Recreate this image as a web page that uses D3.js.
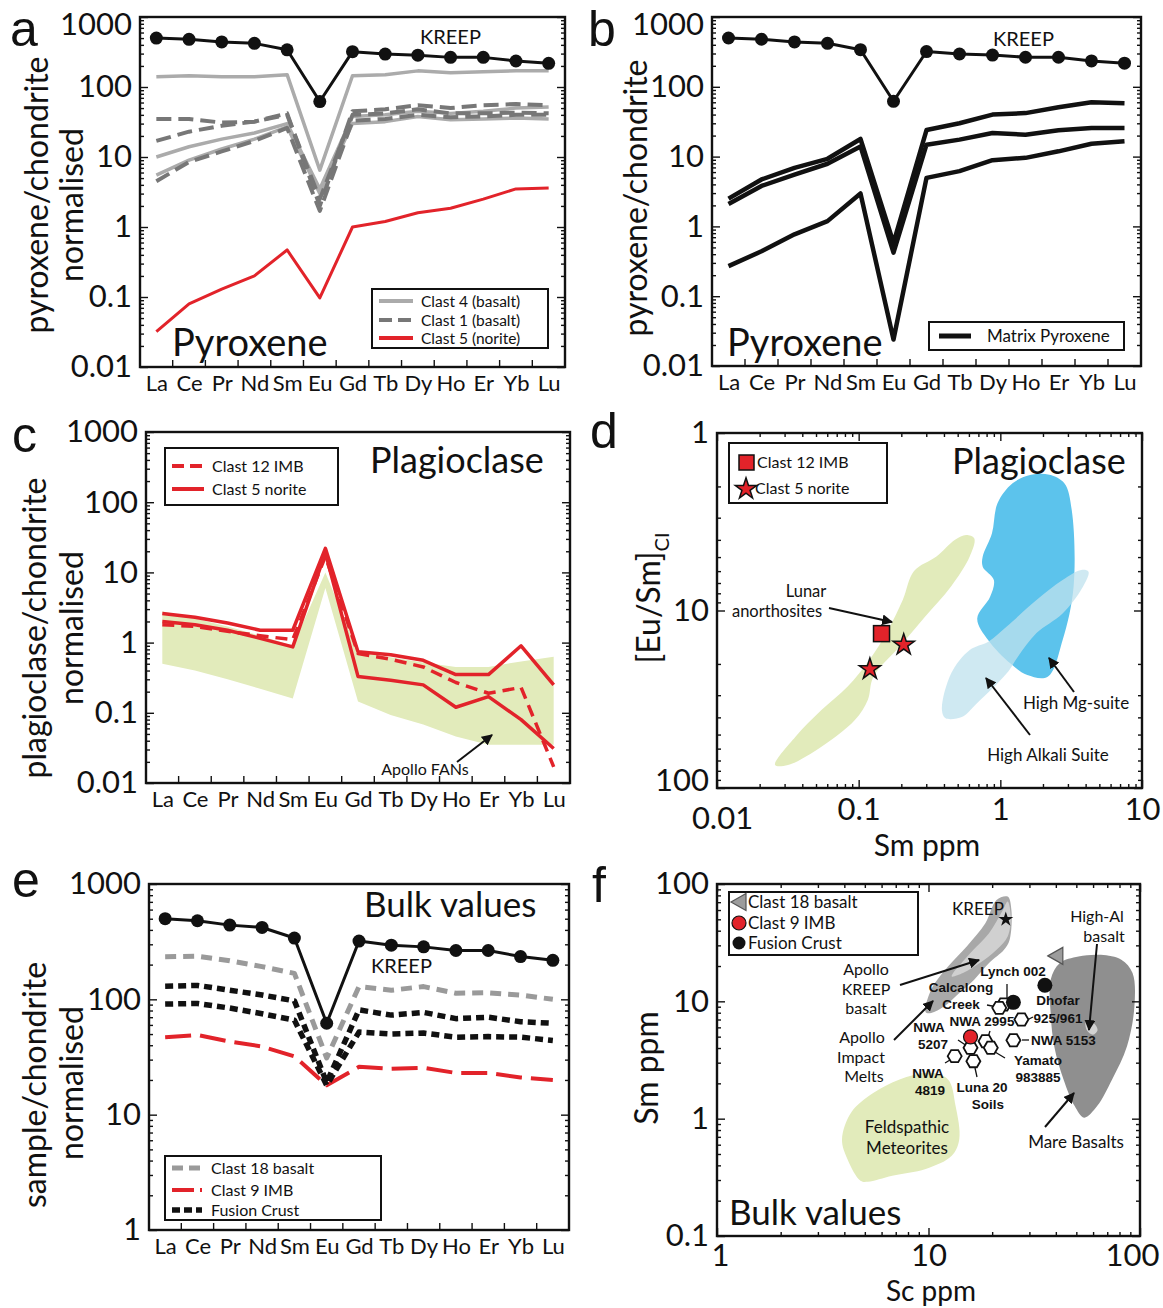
<!DOCTYPE html>
<html>
<head>
<meta charset="utf-8">
<script src="https://cdnjs.cloudflare.com/ajax/libs/d3/7.8.5/d3.min.js"></script>
<style>
body { margin: 0; background: #fff; }
text { font-family: Lato, "Open Sans", sans-serif; fill: #111; }
</style>
</head>
<body>
<script>
// ---- data ----
var ree = ["La", "Ce", "Pr", "Nd", "Sm", "Eu", "Gd", "Tb", "Dy", "Ho", "Er", "Yb", "Lu"];
var reeTicks = [0.01, 0.1, 1, 10, 100, 1000];
var bulkTicks = [1, 10, 100, 1000];

var kreep = [500, 480, 440, 420, 340, 62, 320, 295, 285, 265, 265, 235, 218];

// a: pyroxene in clasts
var clast4a = [140, 145, 140, 140, 150, 6.5, 145, 150, 170, 160, 165, 170, 170];
var clast4b = [10, 14, 18, 22, 30, 3.5, 38, 40, 45, 42, 45, 50, 52];
var clast4c = [5.5, 9, 13, 18, 27, 3, 30, 32, 38, 34, 35, 36, 35];
var clast1a = [35, 35, 31, 32, 42, 2, 45, 48, 55, 50, 55, 57, 55];
var clast1b = [17, 23, 28, 32, 40, 2.5, 40, 42, 48, 42, 42, 43, 42];
var clast1c = [4.5, 8.5, 12, 17, 26, 1.7, 33, 35, 40, 37, 38, 40, 40];
var clast5px = [0.032, 0.08, 0.13, 0.2, 0.47, 0.097, 1.0, 1.2, 1.6, 1.85, 2.5, 3.5, 3.6];

// b: matrix pyroxene
var matrix1 = [2.5, 4.7, 6.9, 9.3, 17.9, 0.58, 24, 30, 40, 42, 51, 60, 58];
var matrix2 = [2.1, 3.8, 5.5, 7.9, 14, 0.42, 14.8, 17.5, 21.8, 20.6, 23.8, 25.7, 25.7];
var matrix3 = [0.27, 0.44, 0.77, 1.19, 2.96, 0.024, 4.96, 6.2, 8.9, 9.6, 11.9, 15.3, 16.6];

// c: plagioclase
var noriteA = [2.6, 2.3, 1.9, 1.5, 1.5, 22, 0.74, 0.67, 0.56, 0.35, 0.35, 0.9, 0.25];
var noriteB = [2.0, 1.8, 1.5, 1.15, 0.87, 19, 0.33, 0.29, 0.25, 0.12, 0.17, 0.08, 0.031];
var imbPlag = [1.8, 1.7, 1.45, 1.25, 1.1, 17, 0.7, 0.58, 0.45, 0.27, 0.19, 0.23, 0.017];
var fanUpper = [2.8, 2.2, 1.7, 1.25, 0.9, 10, 0.72, 0.62, 0.52, 0.45, 0.45, 0.54, 0.63];
var fanLower = [0.5, 0.4, 0.3, 0.22, 0.16, 6, 0.145, 0.093, 0.068, 0.046, 0.035, 0.035, 0.035];

// d: [Eu/Sm] vs Sm
var dTicksX = [0.01, 0.1, 1, 10];
var dTicksY = [1, 10, 100];
var imbSm = [0.145], imbEuSm = [13.5];
var noriteSm = [0.12, 0.208], noriteEuSm = [21.4, 15.6];
var anorthSm = [0.0257, 0.0358, 0.0546, 0.0833, 0.119, 0.161, 0.205, 0.246, 0.354, 0.479, 0.573,
                0.654, 0.608, 0.45, 0.295, 0.194, 0.127, 0.116, 0.094, 0.0546, 0.0317];
var anorthEuSm = [74.2, 51.4, 36.4, 26.9, 19.0, 12.9, 8.7, 6.0, 4.97, 4.0, 3.76,
                  3.92, 4.97, 7.3, 10.8, 16.0, 23.6, 31.9, 41.4, 58.5, 74.2];
var mgSm = [1.65, 1.22, 0.955, 0.873, 0.751, 0.751, 0.9, 0.847, 0.687, 0.822, 1.18, 1.55, 2.16, 2.75, 3.29, 3.19, 2.83, 2.22];
var mgEuSm = [1.72, 1.92, 2.49, 3.67, 4.97, 5.66, 6.73, 8.36, 11.1, 14.7, 19.9, 23.1, 23.6, 14.7, 7.34, 2.71, 1.92, 1.72];
var alkSm = [4.19, 3.83, 2.75, 1.80, 1.33, 1.11, 0.647, 0.539, 0.411, 0.387, 0.45, 0.608, 0.822, 1.11, 1.80, 2.75, 3.72];
var alkEuSm = [6.04, 7.34, 10.4, 13.4, 18.2, 22.6, 34.8, 39.7, 40.5, 36.4, 22.6, 16.7, 15.0, 12.3, 8.73, 6.73, 5.91];

// e: bulk
var clast18 = [234, 236, 216, 192, 168, 31, 129, 120, 129, 113, 114, 109, 100];
var clast9 = [47, 49, 43, 39, 32, 18, 26, 25, 25.5, 23, 23, 21, 20];
var fusion1 = [130, 132, 120, 109, 97, 19, 81, 73, 77, 68, 70, 64, 62];
var fusion2 = [91, 92, 84, 75, 66, 18, 52, 50, 51, 47, 47.5, 47, 44];

// f: Sm vs Sc
var fTicksX = [1, 10, 100];
var fTicksY = [0.1, 1, 10, 100];
var c18Sc = [40], c18Sm = [24.4];
var c9Sc = [15.8], c9Sm = [4.98];
var fcSc = [25.2, 35.5], fcSm = [9.8, 13.7];
var kreepSc = [23.2], kreepSm = [50];
var metSc = [22.7, 21.6, 27.5, 25.2, 18.6, 19.7, 15.8, 13.3, 16.3];
var metSm = [9.4, 8.8, 7.0, 4.66, 4.57, 4.02, 4.02, 3.41, 3.09];
var meltSc = [9.7, 10.3, 12.37, 15.16, 18.57, 20.98, 23.68, 24.66, 24.17, 22.75, 19.33, 16.44, 13.98, 11.88, 10.3];
var meltSm = [8.07, 12.6, 19.8, 29.4, 46.3, 73.1, 78.1, 60.1, 33.4, 27.5, 21.2, 15.3, 11.8, 9.07, 7.96];
var kbSc = [12.88, 15.78, 19.33, 22.28, 23.68, 24.47, 23.68, 20.98, 17.47, 14.55];
var kbSm = [16.3, 25.8, 38.1, 58.2, 70.8, 52.8, 35.7, 27.5, 21.2, 17.4];
var mareSc = [37.8, 41.8, 51.2, 65.3, 81.6, 92.2, 94.1, 86.8, 73.8, 62.7, 54.4, 49.1, 43.5, 39.3, 37.8];
var mareSm = [15.3, 21.2, 24.1, 24.9, 22.6, 17.4, 9.07, 4.15, 2.16, 1.28, 1.02, 1.28, 2.16, 4.15, 7.96];
var highAlSc = [55.5, 60, 63, 60, 56];
var highAlSm = [6.9, 6.6, 5.7, 5.2, 5.7];
var feldSc = [4.77, 4.14, 3.90, 4.31, 5.50, 7.30, 10.1, 12.37, 13.43, 13.98, 12.88, 9.70, 6.74, 5.17];
var feldSm = [0.296, 0.452, 0.668, 1.13, 1.66, 2.16, 2.46, 2.16, 1.28, 0.668, 0.482, 0.372, 0.326, 0.29];

// ---- drawing ----
var svg = d3.select("body").append("svg").attr("width", 1163).attr("height", 1308);
var defs = svg.append("defs");
defs.append("marker").attr("id", "arr").attr("viewBox", "0 0 10 10")
  .attr("refX", 9).attr("refY", 5).attr("markerWidth", 11).attr("markerHeight", 11)
  .attr("markerUnits", "userSpaceOnUse").attr("orient", "auto")
  .append("path").attr("d", "M0,0L10,5L0,10Z").attr("fill", "#111");

var green = "#e2ebbb";
var red = "#e2232a", lightGrey = "#ababab", darkGrey = "#777";
var letterFont = "'Liberation Sans', Arial, sans-serif";
var boldFont = "'Liberation Sans', Arial, sans-serif";

function minorsOf(decades) {
  var m = [];
  decades.slice(0, -1).forEach(function(t) {
    for (var k = 2; k < 10; k++) m.push(t * k);
  });
  return m;
}

function styleAxis(g, size) {
  g.select(".domain").remove();
  g.attr("font-family", "Lato, 'Open Sans', sans-serif").attr("font-size", size || 31);
  g.selectAll("line").attr("stroke", "#111").attr("stroke-width", 1.4);
  g.selectAll("text").attr("fill", "#111");
}

// nudge the label of one tick (the end labels sit off their ticks in the original)
function nudge(g, value, attr, amount) {
  g.selectAll(".tick").filter(function(d) { return d === value; })
    .select("text").attr(attr, function() { return +d3.select(this).attr(attr) + amount; });
}

function yLog(y, x0, x1, decades, opt) {
  opt = opt || {};
  var g1 = svg.append("g").attr("transform", "translate(" + x0 + ",0)")
    .call(d3.axisLeft(y).tickValues(decades).tickSize(-8).tickPadding(8)
      .tickFormat(function(d) { return String(d); }));
  styleAxis(g1);
  if (opt.topDy) nudge(g1, opt.topValue || d3.max(decades), "y", opt.topDy);
  if (opt.bottomDy) nudge(g1, opt.bottomValue, "y", opt.bottomDy);
  styleAxis(svg.append("g").attr("transform", "translate(" + x0 + ",0)")
    .call(d3.axisLeft(y).tickValues(minorsOf(decades)).tickSize(-4).tickFormat("")));
  styleAxis(svg.append("g").attr("transform", "translate(" + x1 + ",0)")
    .call(d3.axisRight(y).tickValues(decades).tickSize(-8).tickFormat("")));
  styleAxis(svg.append("g").attr("transform", "translate(" + x1 + ",0)")
    .call(d3.axisRight(y).tickValues(minorsOf(decades)).tickSize(-4).tickFormat("")));
}

function xLog(x, y0, y1, decades, opt) {
  opt = opt || {};
  var g = svg.append("g").attr("transform", "translate(0," + y1 + ")")
    .call(d3.axisBottom(x).tickValues(decades).tickSize(-8).tickPadding(opt.padding || 10)
      .tickFormat(function(d) { return String(d); }));
  styleAxis(g);
  var lo = d3.min(decades), hi = d3.max(decades);
  if (opt.firstDx) nudge(g, lo, "x", opt.firstDx);
  if (opt.firstDy) nudge(g, lo, "y", opt.firstDy);
  if (opt.lastDx) nudge(g, hi, "x", opt.lastDx);
  styleAxis(svg.append("g").attr("transform", "translate(0," + y1 + ")")
    .call(d3.axisBottom(x).tickValues(minorsOf(decades)).tickSize(-4).tickFormat("")));
  styleAxis(svg.append("g").attr("transform", "translate(0," + y0 + ")")
    .call(d3.axisTop(x).tickValues(decades).tickSize(-8).tickFormat("")));
  styleAxis(svg.append("g").attr("transform", "translate(0," + y0 + ")")
    .call(d3.axisTop(x).tickValues(minorsOf(decades)).tickSize(-4).tickFormat("")));
}

function frame(x0, y0, x1, y1) {
  svg.append("rect").attr("x", x0).attr("y", y0).attr("width", x1 - x0).attr("height", y1 - y0)
    .attr("fill", "none").attr("stroke", "#111").attr("stroke-width", 2.4);
}

function text(x, y, s, size, anchor, weight) {
  var t = svg.append("text").attr("x", x).attr("y", y).attr("font-size", size)
    .attr("text-anchor", anchor || "start").text(s);
  if (weight) t.attr("font-weight", weight);
  return t;
}

// several lines in one text element; xs is one x or one per line
function mtext(xs, y, lines, size, lh, anchor, weight) {
  var t = svg.append("text").attr("font-size", size).attr("text-anchor", anchor || "middle");
  if (weight) t.attr("font-weight", weight);
  lines.forEach(function(s, i) {
    t.append("tspan").attr("x", Array.isArray(xs) ? xs[i] : xs).attr("y", y + i * lh).text(s);
  });
  return t;
}

function btext(xs, y, lines, lh, anchor) {
  return mtext(xs, y, lines, 13.5, lh || 17.5, anchor || "middle", "bold").style("font-family", boldFont);
}

function letter(x, y, s) {
  return text(x, y, s, 50).style("font-family", letterFont);
}

function vtext(cx, cy, s, size) {
  return svg.append("text").attr("transform", "translate(" + cx + "," + cy + ") rotate(-90)")
    .attr("dy", "0.35em").attr("text-anchor", "middle").attr("font-size", size).text(s);
}

function arrow(xa, ya, xb, yb) {
  svg.append("line").attr("x1", xa).attr("y1", ya).attr("x2", xb).attr("y2", yb)
    .attr("stroke", "#111").attr("stroke-width", 2).attr("marker-end", "url(#arr)");
}

// REE spider panel
function reePanel(p) {
  var x = d3.scalePoint().domain(ree).range([p.x0, p.x1]).padding(0.5);
  var y = d3.scaleLog().domain([p.ymin, p.ymax]).range([p.y1, p.y0]);
  var line = d3.line().x(function(d, i) { return x(ree[i]); }).y(function(d) { return y(d); });

  if (p.field) {
    var pts = p.field.upper.map(function(v, i) { return [x(ree[i]), y(v)]; });
    var low = p.field.lower.map(function(v, i) { return [x(ree[i]), y(v)]; }).reverse();
    svg.append("path").attr("d", "M" + pts.concat(low).join("L") + "Z").attr("fill", green);
  }

  p.series.forEach(function(s) {
    svg.append("path").datum(s.values).attr("d", line).attr("fill", "none")
      .attr("stroke", s.color).attr("stroke-width", s.width)
      .attr("stroke-dasharray", s.dash || null).attr("stroke-linejoin", "round");
    if (s.dots) {
      svg.append("g").selectAll("circle").data(s.values).enter().append("circle")
        .attr("cx", function(d, i) { return x(ree[i]); })
        .attr("cy", function(d) { return y(d); })
        .attr("r", 6.5).attr("fill", s.color);
    }
  });

  frame(p.x0, p.y0, p.x1, p.y1);
  yLog(y, p.x0, p.x1, p.ticks, { topDy: p.topShift });

  // category labels
  var gx = svg.append("g").attr("transform", "translate(0," + p.y1 + ")")
    .call(d3.axisBottom(x).tickSize(0).tickPadding(8));
  styleAxis(gx, 22);
  // ticks between categories
  var step = x.step();
  svg.append("g").selectAll("line").data(ree.slice(0, -1)).enter().append("line")
    .attr("x1", function(d) { return x(d) + step / 2; })
    .attr("x2", function(d) { return x(d) + step / 2; })
    .attr("y1", p.y1).attr("y2", p.y1 - 7)
    .attr("stroke", "#111").attr("stroke-width", 1.4);
  return { x: x, y: y };
}

function legendBox(x0, y0, x1, y1) {
  svg.append("rect").attr("x", x0).attr("y", y0).attr("width", x1 - x0).attr("height", y1 - y0)
    .attr("fill", "#fff").attr("stroke", "#111").attr("stroke-width", 2);
}
function legendLine(xa, xb, y, color, width, dash) {
  svg.append("line").attr("x1", xa).attr("x2", xb).attr("y1", y).attr("y2", y)
    .attr("stroke", color).attr("stroke-width", width).attr("stroke-dasharray", dash || null);
}

// ---------- panel a ----------
reePanel({
  x0: 140, x1: 565, y0: 17, y1: 367, ymin: 0.01, ymax: 1000, ticks: reeTicks, topShift: 8,
  series: [
    { values: clast4a, color: lightGrey, width: 3.5 },
    { values: clast4b, color: lightGrey, width: 3.5 },
    { values: clast4c, color: lightGrey, width: 3.5 },
    { values: clast1a, color: darkGrey, width: 4, dash: "15,7" },
    { values: clast1b, color: darkGrey, width: 4, dash: "15,7" },
    { values: clast1c, color: darkGrey, width: 4, dash: "15,7" },
    { values: clast5px, color: red, width: 3 },
    { values: kreep, color: "#111", width: 3, dots: true }
  ]
});
text(420, 44, "KREEP", 20);
text(172, 356, "Pyroxene", 38);
legendBox(372, 289, 548, 348);
legendLine(379, 413, 301, lightGrey, 4);
legendLine(379, 413, 320, darkGrey, 4, "13,6");
legendLine(379, 413, 338, red, 4);
text(421, 307, "Clast 4 (basalt)", 15.5);
text(421, 326, "Clast 1 (basalt)", 15.5);
text(421, 344, "Clast 5 (norite)", 15.5);
letter(10, 46, "a");
vtext(37, 195, "pyroxene/chondrite", 32);
vtext(72, 205, "normalised", 32);

// ---------- panel b ----------
reePanel({
  x0: 712, x1: 1141, y0: 17, y1: 366, ymin: 0.01, ymax: 1000, ticks: reeTicks, topShift: 8,
  series: [
    { values: matrix1, color: "#111", width: 4.5 },
    { values: matrix2, color: "#111", width: 4.5 },
    { values: matrix3, color: "#111", width: 4.5 },
    { values: kreep, color: "#111", width: 3, dots: true }
  ]
});
text(993, 46, "KREEP", 20);
text(727, 356, "Pyroxene", 38);
legendBox(929, 322, 1124, 350);
legendLine(939, 971, 336, "#111", 5);
text(987, 342, "Matrix Pyroxene", 17);
letter(588, 46, "b");
vtext(636, 198, "pyroxene/chondrite", 32);

// ---------- panel c ----------
reePanel({
  x0: 146, x1: 570, y0: 432, y1: 783, ymin: 0.01, ymax: 1000, ticks: reeTicks,
  field: { upper: fanUpper, lower: fanLower },
  series: [
    { values: imbPlag, color: red, width: 3.5, dash: "12,7" },
    { values: noriteA, color: red, width: 3.5 },
    { values: noriteB, color: red, width: 3.5 }
  ]
});
text(370, 473, "Plagioclase", 36);
legendBox(165, 448, 338, 505);
legendLine(172, 204, 466, red, 4, "12,6");
legendLine(172, 204, 489, red, 4);
text(212, 472, "Clast 12 IMB", 16);
text(212, 495, "Clast 5 norite", 16);
text(425, 775, "Apollo FANs", 16, "middle");
arrow(457, 762, 492, 735);
letter(12, 452, "c");
vtext(35, 628, "plagioclase/chondrite", 32);
vtext(72, 628, "normalised", 32);

// ---------- panel d ----------
(function() {
  var x0 = 717, x1 = 1142, y0 = 433, y1 = 788;
  var x = d3.scaleLog().domain([0.01, 10]).range([x0, x1]);
  var y = d3.scaleLog().domain([1, 100]).range([y0, y1]);
  var closed = d3.line().x(function(d) { return x(d[0]); }).y(function(d) { return y(d[1]); })
    .curve(d3.curveCatmullRomClosed.alpha(0.5));
  svg.append("path").attr("d", closed(d3.zip(anorthSm, anorthEuSm))).attr("fill", green);
  svg.append("path").attr("d", closed(d3.zip(mgSm, mgEuSm))).attr("fill", "#5cc3ec");
  svg.append("path").attr("d", closed(d3.zip(alkSm, alkEuSm))).attr("fill", "#bfe1ed").attr("opacity", 0.75);

  svg.append("g").selectAll("rect").data(d3.zip(imbSm, imbEuSm)).enter().append("rect")
    .attr("x", function(d) { return x(d[0]) - 8; }).attr("y", function(d) { return y(d[1]) - 8; })
    .attr("width", 16).attr("height", 16).attr("fill", red).attr("stroke", "#111").attr("stroke-width", 1.5);
  var star = d3.symbol().type(d3.symbolStar).size(140);
  svg.append("g").selectAll("path").data(d3.zip(noriteSm, noriteEuSm)).enter().append("path")
    .attr("d", star).attr("transform", function(d) { return "translate(" + x(d[0]) + "," + y(d[1]) + ")"; })
    .attr("fill", red).attr("stroke", "#111").attr("stroke-width", 1.5);

  frame(x0, y0, x1, y1);
  yLog(y, x0, x1, dTicksY, { bottomValue: 100, bottomDy: -7 });
  xLog(x, y0, y1, dTicksX, { firstDx: 5, firstDy: 9 });

  legendBox(729, 443, 887, 503);
  svg.append("rect").attr("x", 739).attr("y", 455).attr("width", 15).attr("height", 15)
    .attr("fill", red).attr("stroke", "#111").attr("stroke-width", 1.5);
  svg.append("path").attr("d", star).attr("transform", "translate(746,489)")
    .attr("fill", red).attr("stroke", "#111").attr("stroke-width", 1.5);
  text(757, 468, "Clast 12 IMB", 16);
  text(755, 494, "Clast 5 norite", 16);
  text(952, 474, "Plagioclase", 36);
  mtext([806, 777], 597, ["Lunar", "anorthosites"], 16.5, 20);
  arrow(829, 608, 892, 622);
  text(1076, 709, "High Mg-suite", 17, "middle");
  arrow(1074, 692, 1049, 658);
  text(1048, 761, "High Alkali Suite", 17, "middle");
  arrow(1030, 735, 986, 678);
  text(927, 856, "Sm ppm", 30, "middle");
  var t = svg.append("text").attr("transform", "translate(649,598) rotate(-90)")
    .attr("dy", "0.35em").attr("text-anchor", "middle").attr("font-size", 32);
  t.append("tspan").text("[Eu/Sm]");
  t.append("tspan").attr("font-size", 20).attr("dy", "0.45em").text("CI");
  letter(590, 448, "d");
})();

// ---------- panel e ----------
reePanel({
  x0: 149, x1: 569, y0: 884, y1: 1230, ymin: 1, ymax: 1000, ticks: bulkTicks,
  series: [
    { values: clast18, color: "#9a9a9a", width: 5, dash: "11,7" },
    { values: clast9, color: red, width: 4, dash: "26,9" },
    { values: fusion1, color: "#111", width: 5.5, dash: "8,5" },
    { values: fusion2, color: "#111", width: 5.5, dash: "8,5" },
    { values: kreep, color: "#111", width: 3, dots: true }
  ]
});
text(364, 917, "Bulk values", 35);
text(371, 973, "KREEP", 20);
legendBox(165, 1156, 381, 1220);
legendLine(172, 202, 1168, "#9a9a9a", 5, "11,6");
legendLine(172, 202, 1190, red, 4, "22,6");
legendLine(172, 202, 1210, "#111", 5.5, "8,4");
text(211, 1174, "Clast 18 basalt", 16);
text(211, 1196, "Clast 9 IMB", 16);
text(211, 1216, "Fusion Crust", 16);
letter(12, 897, "e");
vtext(35, 1085, "sample/chondrite", 32);
vtext(72, 1083, "normalised", 32);

// ---------- panel f ----------
(function() {
  var x0 = 717, x1 = 1140, y0 = 884, y1 = 1236;
  var x = d3.scaleLog().domain([1, 100]).range([x0, x1]);
  var y = d3.scaleLog().domain([0.1, 100]).range([y1, y0]);
  var closed = d3.line().x(function(d) { return x(d[0]); }).y(function(d) { return y(d[1]); })
    .curve(d3.curveCatmullRomClosed.alpha(0.5));
  svg.append("path").attr("d", closed(d3.zip(feldSc, feldSm))).attr("fill", green);
  svg.append("path").attr("d", closed(d3.zip(meltSc, meltSm))).attr("fill", "#a8a8a8");
  svg.append("path").attr("d", closed(d3.zip(kbSc, kbSm))).attr("fill", "#d0d0d0");
  svg.append("path").attr("d", closed(d3.zip(mareSc, mareSm))).attr("fill", "#8f8f8f");
  svg.append("path").attr("d", closed(d3.zip(highAlSc, highAlSm))).attr("fill", "#d2d2d2");

  // leader lines from labels
  var leaders = [[1007, 984, 1007, 1000], [987, 1005, 997, 1007], [1033, 1017, 1027, 1020],
                 [990, 1031, 988, 1037], [958, 1040, 967, 1046], [1022, 1040, 1029, 1040],
                 [995, 1052, 1005, 1058], [945, 1063, 950, 1060], [975, 1068, 977, 1077]];
  svg.append("g").selectAll("line").data(leaders).enter().append("line")
    .attr("x1", function(d) { return d[0]; }).attr("y1", function(d) { return d[1]; })
    .attr("x2", function(d) { return d[2]; }).attr("y2", function(d) { return d[3]; })
    .attr("stroke", "#111").attr("stroke-width", 1.3);

  var hex = "M" + d3.range(6).map(function(i) {
    return [7 * Math.cos(i * Math.PI / 3), 7 * Math.sin(i * Math.PI / 3)];
  }).join("L") + "Z";
  svg.append("g").selectAll("path").data(d3.zip(metSc, metSm)).enter().append("path")
    .attr("d", hex).attr("transform", function(d) { return "translate(" + x(d[0]) + "," + y(d[1]) + ")"; })
    .attr("fill", "#fff").attr("stroke", "#111").attr("stroke-width", 1.8);

  var tri = "M-8,0L7,-8.5L7,8.5Z";
  svg.append("g").selectAll("path").data(d3.zip(c18Sc, c18Sm)).enter().append("path")
    .attr("d", tri).attr("transform", function(d) { return "translate(" + x(d[0]) + "," + y(d[1]) + ")"; })
    .attr("fill", "#9c9c9c").attr("stroke", "#555").attr("stroke-width", 1.2);
  svg.append("g").selectAll("circle").data(d3.zip(c9Sc, c9Sm)).enter().append("circle")
    .attr("cx", function(d) { return x(d[0]); }).attr("cy", function(d) { return y(d[1]); })
    .attr("r", 7).attr("fill", red).attr("stroke", "#111").attr("stroke-width", 1.2);
  svg.append("g").selectAll("circle").data(d3.zip(fcSc, fcSm)).enter().append("circle")
    .attr("cx", function(d) { return x(d[0]); }).attr("cy", function(d) { return y(d[1]); })
    .attr("r", 7.5).attr("fill", "#111");
  var kstar = d3.symbol().type(d3.symbolStar).size(70);
  svg.append("g").selectAll("path").data(d3.zip(kreepSc, kreepSm)).enter().append("path")
    .attr("d", kstar).attr("transform", function(d) { return "translate(" + x(d[0]) + "," + y(d[1]) + ")"; })
    .attr("fill", "#111");

  frame(x0, y0, x1, y1);
  yLog(y, x0, x1, fTicksY);
  xLog(x, y0, y1, fTicksX, { padding: 8, firstDx: 3, lastDx: -8 });

  legendBox(729, 892, 918, 955);
  svg.append("path").attr("d", tri).attr("transform", "translate(739,902)")
    .attr("fill", "#9c9c9c").attr("stroke", "#555").attr("stroke-width", 1.2);
  svg.append("circle").attr("cx", 739).attr("cy", 923).attr("r", 7).attr("fill", red)
    .attr("stroke", "#111").attr("stroke-width", 1.2);
  svg.append("circle").attr("cx", 739).attr("cy", 943).attr("r", 6.5).attr("fill", "#111");
  text(748, 908, "Clast 18 basalt", 17);
  text(748, 929, "Clast 9 IMB", 17);
  text(748, 949, "Fusion Crust", 17);

  text(978, 915, "KREEP", 17, "middle");
  mtext([1097, 1104], 922, ["High-Al", "basalt"], 16, 19.5);
  arrow(1097, 944, 1089, 1030);
  mtext(866, 975, ["Apollo", "KREEP", "basalt"], 16, 19.5);
  arrow(900, 985, 979, 960);
  mtext([862, 861, 864], 1043, ["Apollo", "Impact", "Melts"], 16, 19.5);
  arrow(894, 1040, 933, 1001);
  mtext(907, 1133, ["Feldspathic", "Meteorites"], 17, 20.6);
  text(1076, 1148, "Mare Basalts", 17, "middle");
  arrow(1045, 1127, 1074, 1093);

  btext(1013, 976, ["Lynch 002"]);
  btext(961, 992, ["Calcalong", "Creek"], 17);
  btext(1058, 1005, ["Dhofar", "925/961"], 18);
  btext(982, 1026, ["NWA 2995"]);
  btext([929, 933], 1032, ["NWA", "5207"], 17);
  btext(1031, 1045, ["NWA 5153"], 17, "start");
  btext(1038, 1065, ["Yamato", "983885"], 17);
  btext([928, 930], 1078, ["NWA", "4819"], 17);
  btext([982, 988], 1092, ["Luna 20", "Soils"], 17);

  text(729, 1225, "Bulk values", 35);
  text(931, 1301, "Sc ppm", 28, "middle");
  vtext(647, 1068, "Sm ppm", 32);
  letter(592, 902, "f");
})();
</script>
</body>
</html>
